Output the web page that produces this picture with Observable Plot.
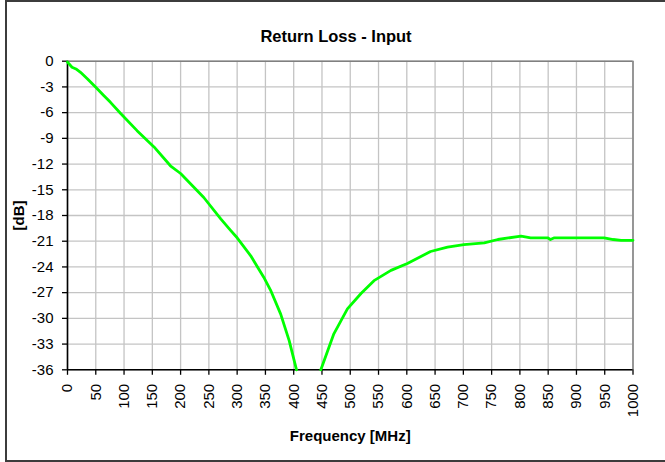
<!DOCTYPE html>
<html>
<head>
<meta charset="utf-8">
<script src="https://cdn.jsdelivr.net/npm/d3@7"></script>
<script src="https://cdn.jsdelivr.net/npm/@observablehq/plot@0.6"></script>
<style>
  html, body { margin: 0; padding: 0; background: #fff; }
  body { width: 665px; height: 462px; position: relative; overflow: hidden; font-family: "Liberation Sans", Arial, sans-serif; }
  #frame { position: absolute; left: 5px; top: 0; width: 700px; height: 462px; box-sizing: border-box; border: 2px solid #3c3c3c; }
  #title { position: relative; height: 45px; width: 672px; text-align: center; font-weight: bold; font-size: 16.5px; line-height: 20px; padding-top: 0; }
  #title span { position: absolute; left: 0; right: 0; top: 26px; }
  #chart { position: relative; }
</style>
</head>
<body>
<div id="frame"></div>
<div id="title"><span>Return Loss - Input</span></div>
<div id="chart"></div>
<script>
// Frequency [MHz] and return loss [dB]; NaN marks where the curve leaves the plot (below -36 dB)
const freq = [0, 8, 15, 23, 35, 50, 64, 76, 94, 123, 153, 182, 200, 241, 271, 288, 300, 324, 347, 359, 377, 392, 405,
              425,
              448, 471, 495, 519, 542, 572, 601, 642, 672, 701, 737, 761, 802, 819, 849, 854, 861, 949, 965, 979, 1000];
const rl   = [-0.1, -0.7, -0.9, -1.3, -2.05, -3.05, -4.0, -4.8, -6.1, -8.1, -10.0, -12.2, -13.1, -15.9, -18.4, -19.7, -20.6, -22.7, -25.2, -26.7, -29.5, -32.6, -36,
              NaN,
              -36, -31.8, -28.9, -27.1, -25.6, -24.4, -23.6, -22.2, -21.7, -21.4, -21.2, -20.8, -20.4, -20.6, -20.6, -20.8, -20.6, -20.6, -20.8, -20.9, -20.9];
const xTicks = d3.range(0, 1001, 50);
const yTicks = d3.range(-36, 1, 3);
const title = "Return Loss - Input";
const xLabel = "Frequency [MHz]";
const yLabel = "[dB]";

const data = freq.map((f, i) => ({f, db: rl[i]}));

const chart = Plot.plot({
  width: 665,
  height: 417,
  marginTop: 15.7,
  marginBottom: 92.7,
  marginLeft: 67,
  marginRight: 32.5,
  style: {fontFamily: "'Liberation Sans', Arial, sans-serif", fontSize: "15px", background: "transparent", overflow: "visible", color: "#000"},
  x: {domain: [0, 1000], ticks: xTicks},
  y: {domain: [-36, 0], ticks: yTicks},
  marks: [
    Plot.gridX(xTicks, {stroke: "#c4c4c4", strokeOpacity: 1, strokeWidth: 1.3}),
    Plot.gridY(yTicks, {stroke: "#c4c4c4", strokeOpacity: 1, strokeWidth: 1.3}),
    Plot.ruleX([1000], {stroke: "#808080", strokeWidth: 1.5}),
    Plot.ruleY([0], {stroke: "#808080", strokeWidth: 1.5}),
    Plot.axisX(xTicks, {tickRotate: -90, tickSize: 5.5, tickPadding: 8.5, tickFormat: d => String(d), label: null, fontSize: 15, strokeWidth: 1.3}),
    Plot.axisY(yTicks, {tickSize: 5, tickPadding: 9, tickFormat: d => String(d), label: null, fontSize: 15, strokeWidth: 1.3}),
    Plot.ruleX([0], {stroke: "#000", strokeWidth: 1.6}),
    Plot.ruleY([-36], {stroke: "#000", strokeWidth: 1.6}),
    Plot.line(data, {x: "f", y: "db", stroke: "#00ff00", strokeWidth: 2.8, curve: "linear"}),
    Plot.text([xLabel], {frameAnchor: "bottom", dy: 66, lineAnchor: "middle", fontWeight: "bold", fontSize: 15, text: d => d}),
    Plot.text([yLabel], {frameAnchor: "left", dx: -48, rotate: -90, lineAnchor: "middle", textAnchor: "middle", fontWeight: "bold", fontSize: 15, text: d => d})
  ]
});
document.getElementById("chart").appendChild(chart);
</script>
</body>
</html>
